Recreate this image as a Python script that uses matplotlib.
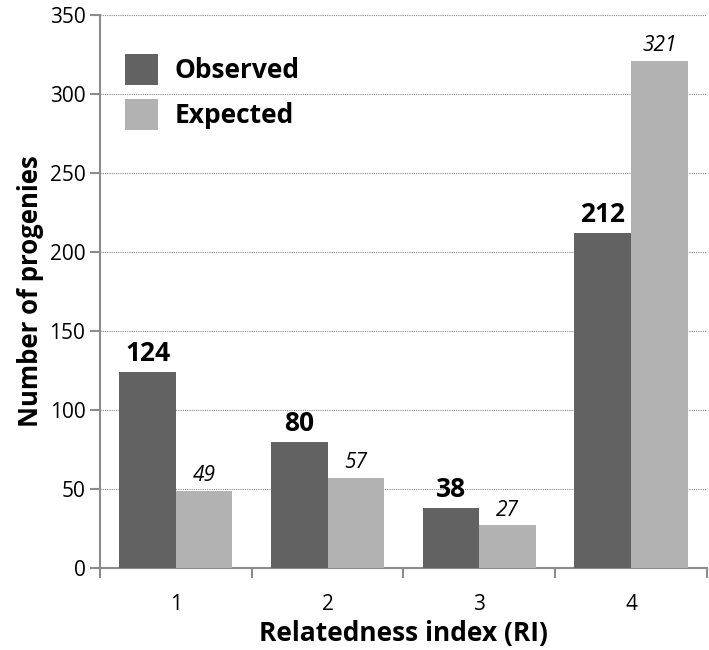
import matplotlib
matplotlib.use("Agg")
import matplotlib.pyplot as plt
import numpy as np

categories = ["1", "2", "3", "4"]
observed = [124, 80, 38, 212]
expected = [49, 57, 27, 321]
y_ticks = [0, 50, 100, 150, 200, 250, 300, 350]

OBS_COLOR = "#626262"
EXP_COLOR = "#b2b2b2"
AXIS_COLOR = "#8c8c8c"

plt.rcParams["font.family"] = ["Open Sans", "DejaVu Sans"]

fig = plt.figure(figsize=(7.09, 6.5), dpi=100)
ax = fig.add_axes([0.141, 0.126, 0.856, 0.851])

x = np.arange(1, len(categories) + 1)
width = 0.373
bars_obs = ax.bar(x - width / 2, observed, width, color=OBS_COLOR, label="Observed", zorder=3)
bars_exp = ax.bar(x + width / 2, expected, width, color=EXP_COLOR, label="Expected", zorder=3)

for bar, val in zip(bars_obs, observed):
    ax.text(bar.get_x() + bar.get_width() / 2, val + 3, str(val),
            ha="center", va="bottom", fontsize=19, fontweight="bold", zorder=4)
for bar, val in zip(bars_exp, expected):
    ax.text(bar.get_x() + bar.get_width() / 2, val + 3, str(val),
            ha="center", va="bottom", fontsize=15, fontstyle="italic", zorder=4)

ax.set_xlim(0.5, len(categories) + 0.5)
ax.set_ylim(0, 350)
ax.set_yticks(y_ticks)
ax.set_yticklabels([str(v) for v in y_ticks], fontsize=15)

# category labels centred, tick marks on the boundaries
ax.set_xticks(x)
ax.set_xticklabels(categories, fontsize=15)
ax.tick_params(axis="x", length=0, pad=19)
ax.set_xticks(np.arange(0.5, len(categories) + 1), minor=True)
ax.tick_params(axis="x", which="minor", length=7, width=1.5, color=AXIS_COLOR, direction="out")
ax.tick_params(axis="y", length=7, width=1.5, color=AXIS_COLOR, direction="out")

ax.grid(axis="y", linestyle=(0, (1, 1)), color="#888888", linewidth=0.8, zorder=0)

for side in ["top", "right"]:
    ax.spines[side].set_visible(False)
for side in ["left", "bottom"]:
    ax.spines[side].set_color(AXIS_COLOR)
    ax.spines[side].set_linewidth(1.5)

ax.set_xlabel("Relatedness index (RI)", fontsize=19, fontweight="bold", labelpad=3)
ax.set_ylabel("Number of progenies", fontsize=18.5, fontweight="bold", labelpad=4)

ax.legend(loc="upper left", bbox_to_anchor=(0.041, 0.93), frameon=False,
          borderaxespad=0, borderpad=0,
          prop={"size": 19, "weight": "bold"}, handlelength=1.25, handleheight=1.47,
          handletextpad=0.65, labelspacing=0.5)

fig.savefig("out.png", dpi=100)
